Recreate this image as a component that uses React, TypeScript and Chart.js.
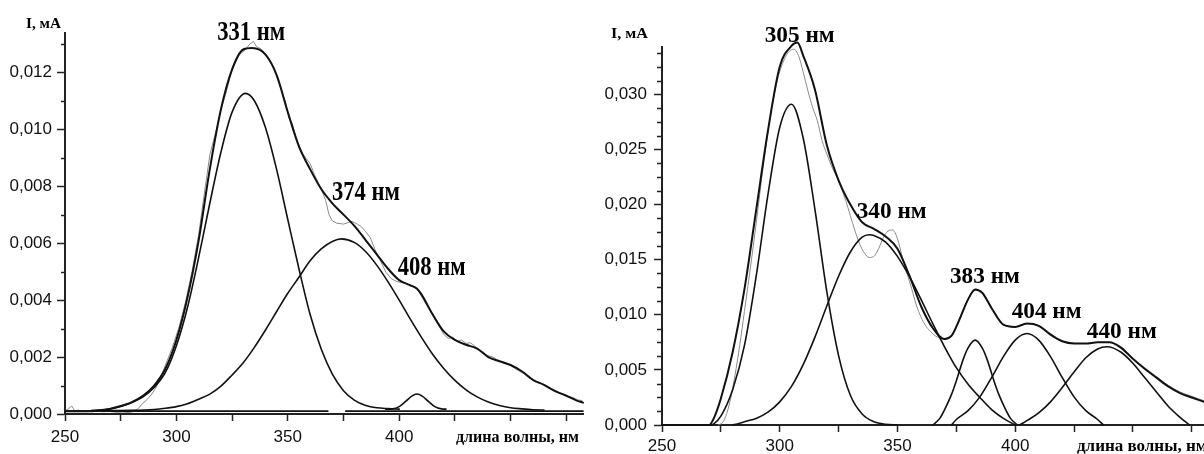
import React, { useEffect, useRef } from 'react';
import { Chart, registerables } from 'chart.js';

Chart.register(...registerables);

// ---------------- LEFT PANEL DATA ----------------
const leftSumX = [250, 255, 260, 265, 270, 275, 280, 285, 290, 295, 300, 305, 310, 315, 320, 325, 330, 334, 340, 345, 350, 355, 360, 365, 370, 375, 380, 385, 390, 395, 400, 405, 408, 410, 415, 420, 425, 430, 435, 440, 445, 450, 455, 460, 465, 470, 475, 480, 482.5];
const leftSumY = [0.0001, 0.0001, 0.0001, 0.00012, 0.00018, 0.00028, 0.00042, 0.00064, 0.001, 0.00158, 0.0026, 0.0041, 0.0061, 0.0086, 0.0107, 0.0121, 0.0128, 0.01285, 0.01262, 0.0119, 0.0106, 0.0094, 0.0086, 0.0079, 0.0074, 0.007, 0.0066, 0.0061, 0.0056, 0.0051, 0.0047, 0.00452, 0.0044, 0.0042, 0.0035, 0.0029, 0.0026, 0.00243, 0.0023, 0.002, 0.00185, 0.00172, 0.0015, 0.0012, 0.00102, 0.0008, 0.00064, 0.00046, 0.0004];

const leftExpX = [250, 251.5, 253, 254.5, 256, 258, 260, 262, 264, 267, 270, 273, 276, 279, 281, 283, 285, 287, 289, 291, 293, 295, 298, 301, 304, 307, 310, 313, 315, 318, 320, 322, 325, 328, 331, 333, 334.6, 336, 338, 341, 344, 347, 349, 350.5, 352, 354, 357, 360, 362, 365, 367, 368.5, 370, 372, 375, 377, 379, 381, 383, 385, 387, 389, 391.5, 394, 396.5, 399, 402, 405, 408, 411, 414, 417, 420, 422, 424, 426, 428, 430, 432, 434, 436, 438, 440, 442, 444, 446, 448, 450, 452, 454, 456, 458, 460, 462, 464, 466, 468, 470, 472, 474, 476, 478, 480, 482];
const leftExpY = [0.00012, 0.00018, 0.00028, 0.0001, 0.00014, 0.00008, 0.00011, 0.00007, 0.0001, 0.00008, 0.00009, 0.00006, 0.00007, 0.00005, 0.0001, 0.0002, 0.00038, 0.00052, 0.0007, 0.00095, 0.0013, 0.0017, 0.0023, 0.003, 0.0039, 0.005, 0.0063, 0.008, 0.0091, 0.01, 0.0107, 0.0112, 0.0121, 0.0126, 0.0128, 0.013, 0.01308, 0.0129, 0.01282, 0.01255, 0.0121, 0.0114, 0.01095, 0.0104, 0.0102, 0.0096, 0.0091, 0.0088, 0.0084, 0.0079, 0.0075, 0.007, 0.00678, 0.0067, 0.00667, 0.00672, 0.00676, 0.00668, 0.00658, 0.0064, 0.0062, 0.0058, 0.0054, 0.00498, 0.00475, 0.00465, 0.0046, 0.00453, 0.0044, 0.004, 0.0036, 0.0032, 0.0028, 0.00265, 0.0027, 0.00255, 0.0026, 0.00248, 0.0025, 0.00238, 0.00225, 0.0021, 0.00205, 0.002, 0.0019, 0.00186, 0.0018, 0.0017, 0.0016, 0.0015, 0.00142, 0.00128, 0.0012, 0.00113, 0.00107, 0.001, 0.0009, 0.00083, 0.00075, 0.0007, 0.00062, 0.00058, 0.0005, 0.00047];

const leftPeak1X = [262, 270, 275, 280, 285, 290, 295, 300, 305, 310, 315, 320, 325, 331, 335, 340, 345, 350, 355, 360, 365, 370, 375, 380, 385, 390, 395, 400];
const leftPeak1Y = [0.00012, 0.00017, 0.00026, 0.0004, 0.0006, 0.00093, 0.00145, 0.0024, 0.00375, 0.0055, 0.0074, 0.0092, 0.0106, 0.01126, 0.011, 0.01005, 0.00858, 0.00683, 0.0051, 0.0035, 0.00228, 0.0014, 0.00082, 0.00048, 0.0003, 0.00022, 0.00019, 0.00017];

const leftPeak2X = [262, 280, 290, 295, 300, 305, 310, 315, 320, 325, 330, 335, 340, 345, 350, 355, 360, 365, 370, 374, 380, 385, 390, 395, 400, 405, 410, 415, 420, 425, 430, 435, 440, 445, 450, 455, 460, 465];
const leftPeak2Y = [0.00012, 0.00013, 0.00016, 0.0002, 0.00026, 0.00036, 0.00052, 0.0007, 0.00098, 0.00137, 0.0018, 0.00234, 0.00295, 0.0036, 0.00424, 0.0048, 0.00538, 0.0058, 0.00606, 0.00615, 0.00602, 0.0057, 0.00522, 0.00464, 0.004, 0.00333, 0.00269, 0.0021, 0.0016, 0.00118, 0.00085, 0.0006, 0.00042, 0.0003, 0.00022, 0.00018, 0.00015, 0.00014];

const leftPeak3X = [394, 397, 400, 403, 405.5, 408, 410.5, 413, 416, 419, 421];
const leftPeak3Y = [0.00017, 0.00018, 0.00026, 0.00045, 0.00062, 0.0007, 0.00062, 0.00045, 0.00026, 0.00018, 0.00017];

const leftBaseX = [250, 368, 372, 376, 482.5];
const leftBaseY = [0.0001, 0.0001, null, 0.0001, 0.0001];

const leftYTicks = [0, 0.002, 0.004, 0.006, 0.008, 0.01, 0.012];
const leftYMinor = [0.001, 0.003, 0.005, 0.007, 0.009, 0.011, 0.013];
const leftXTicks = [250, 275, 300, 325, 350, 375, 400, 425, 450, 475];
const leftXLabels = [250, 300, 350, 400];

// ---------------- RIGHT PANEL DATA ----------------
const rightSumX = [250, 268, 270, 272, 275, 280, 285, 290, 295, 300, 305, 307.5, 310, 315, 320, 325, 330, 335, 340, 345, 350, 355, 360, 365, 370, 373, 376, 380, 383, 386, 390, 395, 400, 405, 410, 415, 420, 425, 430, 435, 440, 445, 450, 455, 460, 465, 470, 475, 480.2];
const rightSumY = [0, 0, 0, 0.0006, 0.0024, 0.0066, 0.0123, 0.0195, 0.0267, 0.0325, 0.0344, 0.0347, 0.0335, 0.0304, 0.0254, 0.0222, 0.02, 0.0184, 0.0178, 0.0171, 0.016, 0.0136, 0.0108, 0.0088, 0.0078, 0.0081, 0.0094, 0.0114, 0.0123, 0.012, 0.0106, 0.0091, 0.0089, 0.0092, 0.009, 0.0082, 0.0076, 0.0074, 0.0074, 0.0075, 0.0075, 0.007, 0.006, 0.0051, 0.0043, 0.0035, 0.0029, 0.0025, 0.0021];

const rightExpX = [274, 276, 278, 280, 283, 285, 288, 290, 293, 296, 299, 302, 304, 306, 308, 310, 312, 314, 316, 318, 320, 322, 324, 326, 328, 330, 332, 334, 336, 338, 340, 342, 344, 346, 348, 350, 352, 354, 356, 358, 360, 362, 364, 366, 368, 370, 373, 376, 380, 383, 386, 390, 395, 400, 405, 410, 415, 420, 425, 430, 435, 440, 445, 450, 455, 460, 465, 470, 475, 480.2];
const rightExpY = [0, 0.0003, 0.0014, 0.0033, 0.0072, 0.0103, 0.015, 0.0183, 0.0235, 0.028, 0.0313, 0.0332, 0.0339, 0.0341, 0.0335, 0.032, 0.0303, 0.0288, 0.0276, 0.0258, 0.0246, 0.0235, 0.0226, 0.0216, 0.0204, 0.019, 0.0176, 0.0164, 0.0156, 0.0152, 0.0153, 0.016, 0.017, 0.0176, 0.0177, 0.0169, 0.0153, 0.0138, 0.0124, 0.0109, 0.0098, 0.009, 0.0085, 0.0081, 0.0079, 0.0078, 0.0081, 0.0094, 0.0114, 0.0122, 0.012, 0.0106, 0.0091, 0.0089, 0.0092, 0.009, 0.0083, 0.0076, 0.0074, 0.0074, 0.0075, 0.0075, 0.0071, 0.0061, 0.0052, 0.0044, 0.0036, 0.003, 0.0026, 0.0022];

const rightPeakAX = [270, 272, 275, 280, 285, 290, 295, 300, 305, 310, 315, 320, 325, 330, 335, 340, 345, 350];
const rightPeakAY = [0, 0.0001, 0.0008, 0.0032, 0.0072, 0.0135, 0.0209, 0.027, 0.0291, 0.026, 0.0195, 0.0121, 0.0063, 0.0027, 0.001, 0.0003, 0.00007, 0];

const rightPeakBX = [280, 282, 285, 290, 295, 300, 305, 310, 315, 320, 325, 330, 335, 338, 340, 345, 350, 355, 360, 365, 370, 375, 380, 385, 390, 395, 400];
const rightPeakBY = [0, 0.0001, 0.0003, 0.0006, 0.00116, 0.0021, 0.0035, 0.0055, 0.008, 0.0108, 0.0135, 0.0157, 0.01705, 0.01727, 0.0172, 0.0166, 0.0153, 0.0135, 0.0114, 0.0092, 0.0071, 0.0052, 0.0037, 0.0025, 0.0014, 0.0006, 0];

const rightPeakCX = [365, 368, 370, 373, 375, 378, 380, 383, 386, 388, 391, 393, 396, 398, 401];
const rightPeakCY = [0, 0.0006, 0.00137, 0.0028, 0.004, 0.006, 0.007, 0.0077, 0.007, 0.006, 0.004, 0.0028, 0.00137, 0.0006, 0];

const rightPeakDX = [373, 375, 380, 385, 390, 395, 400, 405, 410, 415, 420, 425, 430, 435, 437.5];
const rightPeakDY = [0, 0.0005, 0.0013, 0.00255, 0.0043, 0.0062, 0.0077, 0.0083, 0.0077, 0.0062, 0.0043, 0.00255, 0.0013, 0.0005, 0];

const rightPeakEX = [402, 405, 410, 415, 420, 425, 430, 435, 439, 445, 450, 455, 460, 465, 470, 474];
const rightPeakEY = [0, 0.0004, 0.0011, 0.0021, 0.0034, 0.0048, 0.0061, 0.0069, 0.0071, 0.0066, 0.0056, 0.0043, 0.003, 0.0017, 0.0007, 0];

const rightYTicks = [0, 0.005, 0.01, 0.015, 0.02, 0.025, 0.03];
const rightYMinor = [0.00125, 0.0025, 0.00375, 0.00625, 0.0075, 0.00875, 0.01125, 0.0125, 0.01375, 0.01625, 0.0175, 0.01875, 0.02125, 0.0225, 0.02375, 0.02625, 0.0275, 0.02875, 0.03125, 0.0325, 0.03375];
const rightXTicks = [250, 275, 300, 325, 350, 375, 400, 425, 450, 475];
const rightXLabels = [250, 300, 350, 400];

const yTitle = 'I, мА';
const xTitle = 'длина волны, нм';

// ---------------- helpers ----------------
type Pt = { x: number; y: number | null };
const toPoints = (xs: number[], ys: (number | null)[]): Pt[] => xs.map((x, i) => ({ x, y: ys[i] }));

type Peak = { text: string; x: number; y: number };
type TitleSpec = { text: string; x: number; y: number; font: string; width?: number };

function decorPlugin(spec: {
  minorY: number[];
  minorLen: number;
  peaks: Peak[];
  peakFont: string;
  peakWidth?: number;
  titles: TitleSpec[];
}) {
  return {
    id: 'decor',
    afterDraw(chart: any) {
      const { ctx, chartArea } = chart;
      const xs = chart.scales.x;
      const ys = chart.scales.y;
      ctx.save();
      ctx.strokeStyle = '#222';
      ctx.lineWidth = 1.5;
      spec.minorY.forEach((v) => {
        const py = Math.round(ys.getPixelForValue(v)) + 0.5;
        ctx.beginPath();
        ctx.moveTo(chartArea.left - spec.minorLen, py);
        ctx.lineTo(chartArea.left, py);
        ctx.stroke();
      });
      ctx.fillStyle = '#000';
      ctx.textBaseline = 'alphabetic';
      ctx.textAlign = 'left';
      const drawText = (text: string, x: number, y: number, font: string, width?: number) => {
        ctx.font = font;
        const w = ctx.measureText(text).width;
        const sx = width ? width / w : 1;
        ctx.save();
        ctx.translate(x, y);
        ctx.scale(sx, 1);
        ctx.fillText(text, 0, 0);
        ctx.restore();
      };
      spec.peaks.forEach((p) =>
        drawText(p.text, xs.getPixelForValue(p.x), ys.getPixelForValue(p.y), spec.peakFont, spec.peakWidth)
      );
      spec.titles.forEach((t) => drawText(t.text, t.x, t.y, t.font, t.width));
      ctx.restore();
    },
  };
}

const fmtY = (v: number) => Number(v).toFixed(3).replace('.', ',');

function lineDs(data: Pt[], width: number, color = '#111', smooth = true) {
  return {
    data,
    borderColor: color,
    borderWidth: width,
    pointRadius: 0,
    fill: false,
    clip: false as any,
    spanGaps: false,
    cubicInterpolationMode: smooth ? ('monotone' as const) : ('default' as const),
    tension: smooth ? 0.4 : 0,
  };
}

function buildConfig(p: {
  datasets: any[];
  xMax: number;
  yMax: number;
  yTicks: number[];
  xTicks: number[];
  xLabels: number[];
  padding: { left: number; right: number; top: number; bottom: number };
  yWidth: number;
  xHeight: number;
  tickSize: number;
  xPad: number;
  yPad: number;
  plugin: any;
}) {
  return {
    type: 'line' as const,
    data: { datasets: p.datasets },
    plugins: [p.plugin],
    options: {
      responsive: false,
      animation: false as const,
      devicePixelRatio: 1,
      parsing: true,
      layout: { padding: p.padding },
      plugins: { legend: { display: false }, tooltip: { enabled: false } },
      elements: { line: { borderCapStyle: 'round' as const, borderJoinStyle: 'round' as const } },
      scales: {
        x: {
          type: 'linear' as const,
          min: 250,
          max: p.xMax,
          border: { display: true, color: '#222', width: 2 },
          grid: { display: true, drawOnChartArea: false, drawTicks: true, tickLength: 7, tickColor: '#222', tickWidth: 1.5 },
          ticks: {
            autoSkip: false,
            maxRotation: 0,
            color: '#111',
            padding: p.xPad,
            font: { family: '"Liberation Sans", Arial, sans-serif', size: p.tickSize },
            callback: (v: any) => (p.xLabels.includes(Number(v)) ? String(v) : ''),
          },
          afterBuildTicks: (s: any) => {
            s.ticks = p.xTicks.map((v) => ({ value: v }));
          },
          afterFit: (s: any) => {
            s.height = p.xHeight;
          },
        },
        y: {
          type: 'linear' as const,
          min: 0,
          max: p.yMax,
          border: { display: true, color: '#222', width: 2 },
          grid: { display: true, drawOnChartArea: false, drawTicks: true, tickLength: 8, tickColor: '#222', tickWidth: 1.5 },
          ticks: {
            autoSkip: false,
            color: '#111',
            padding: p.yPad,
            font: { family: '"Liberation Sans", Arial, sans-serif', size: p.tickSize },
            callback: (v: any) => fmtY(v),
          },
          afterBuildTicks: (s: any) => {
            s.ticks = p.yTicks.map((v) => ({ value: v }));
          },
          afterFit: (s: any) => {
            s.width = p.yWidth;
          },
        },
      },
    },
  };
}

function leftConfig() {
  const gray = '#8a8a8a';
  const datasets = [
    lineDs(toPoints(leftSumX, leftSumY), 2),
    lineDs(toPoints(leftPeak1X, leftPeak1Y), 1.6),
    lineDs(toPoints(leftPeak2X, leftPeak2Y), 1.6),
    lineDs(toPoints(leftPeak3X, leftPeak3Y), 1.6),
    lineDs(toPoints(leftBaseX, leftBaseY), 1.6, '#111', false),
    lineDs(toPoints(leftExpX, leftExpY), 1, gray, false),
  ];
  const plugin = decorPlugin({
    minorY: leftYMinor,
    minorLen: 4,
    peakFont: 'bold 28px "Liberation Serif", "Times New Roman", serif',
    peakWidth: 68,
    peaks: [
      { text: '331 нм', x: 318.3, y: 0.01313 },
      { text: '374 нм', x: 369.8, y: 0.00752 },
      { text: '408 нм', x: 399.3, y: 0.00489 },
    ],
    titles: [
      { text: yTitle, x: 26, y: 28, font: 'bold 14px "Liberation Serif", serif', width: 35 },
      { text: xTitle, x: 456, y: 442, font: 'bold 16px "Liberation Serif", serif', width: 123 },
    ],
  });
  return buildConfig({
    datasets,
    xMax: 482.5,
    yMax: 0.01338,
    yTicks: leftYTicks,
    xTicks: leftXTicks,
    xLabels: leftXLabels,
    padding: { left: 0, right: 17, top: 33, bottom: 0 },
    yWidth: 65,
    xHeight: 40,
    tickSize: 17,
    xPad: 6,
    yPad: 5,
    plugin,
  });
}

function rightConfig() {
  const gray = '#8a8a8a';
  const datasets = [
    lineDs(toPoints(rightSumX, rightSumY), 2),
    lineDs(toPoints(rightPeakAX, rightPeakAY), 1.6),
    lineDs(toPoints(rightPeakBX, rightPeakBY), 1.6),
    lineDs(toPoints(rightPeakCX, rightPeakCY), 1.6),
    lineDs(toPoints(rightPeakDX, rightPeakDY), 1.6),
    lineDs(toPoints(rightPeakEX, rightPeakEY), 1.6),
    lineDs(toPoints(rightExpX, rightExpY), 1, gray, true),
  ];
  const plugin = decorPlugin({
    minorY: rightYMinor,
    minorLen: 5,
    peakFont: 'bold 24px "Liberation Serif", "Times New Roman", serif',
    peakWidth: 70,
    peaks: [
      { text: '305 нм', x: 293.6, y: 0.03477 },
      { text: '340 нм', x: 332.7, y: 0.01875 },
      { text: '383 нм', x: 372.3, y: 0.01285 },
      { text: '404 нм', x: 398.5, y: 0.00971 },
      { text: '440 нм', x: 430.4, y: 0.00787 },
    ],
    titles: [
      { text: yTitle, x: 11, y: 38, font: 'bold 14px "Liberation Serif", serif', width: 37 },
      { text: xTitle, x: 477, y: 451, font: 'bold 17px "Liberation Serif", serif' },
    ],
  });
  return buildConfig({
    datasets,
    xMax: 480.2,
    yMax: 0.0343,
    yTicks: rightYTicks,
    xTicks: rightXTicks,
    xLabels: rightXLabels,
    padding: { left: 0, right: 0, top: 47, bottom: 0 },
    yWidth: 62,
    xHeight: 29,
    tickSize: 17,
    xPad: 4,
    yPad: 7,
    plugin,
  });
}

function Panel({ make, left, width }: { make: () => any; left: number; width: number }) {
  const ref = useRef<HTMLCanvasElement>(null);
  useEffect(() => {
    if (!ref.current) return;
    const chart = new Chart(ref.current, make());
    return () => chart.destroy();
  }, [make]);
  return (
    <canvas
      ref={ref}
      width={width}
      height={454}
      style={{ position: 'absolute', left, top: 0, width, height: 454, display: 'block' }}
    />
  );
}

export default function App() {
  return (
    <div style={{ position: 'absolute', left: 0, top: 0, width: 1204, height: 454, background: '#fff', overflow: 'hidden' }}>
      <Panel make={leftConfig} left={0} width={600} />
      <Panel make={rightConfig} left={600} width={604} />
    </div>
  );
}
